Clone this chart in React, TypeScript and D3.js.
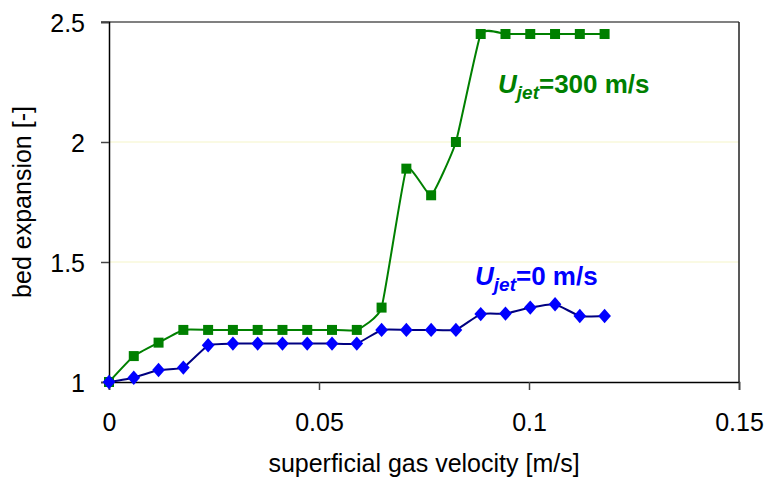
import React, { useEffect, useRef } from 'react';
import * as d3 from 'd3';

// superficial gas velocity [m/s]
const velocity = [
  0, 0.0059, 0.0118, 0.0177, 0.0236, 0.0295, 0.0354, 0.0413, 0.0472, 0.0531, 0.059,
  0.0649, 0.0708, 0.0767, 0.0826, 0.0885, 0.0944, 0.1003, 0.1062, 0.1121, 0.118,
];
// bed expansion, Ujet = 300 m/s
const expansionJet300 = [
  1.0, 1.108, 1.164, 1.217, 1.217, 1.217, 1.217, 1.217, 1.217, 1.217, 1.217,
  1.31, 1.889, 1.778, 2.0, 2.45, 2.45, 2.45, 2.45, 2.45, 2.45,
];
// bed expansion, Ujet = 0 m/s
const expansionJet0 = [
  1.0, 1.018, 1.05, 1.06, 1.153, 1.16, 1.16, 1.16, 1.16, 1.16, 1.16,
  1.217, 1.217, 1.217, 1.217, 1.283, 1.285, 1.31, 1.324, 1.275, 1.275,
];
const xTicks = [0, 0.05, 0.1, 0.15];
const yTicks = [1, 1.5, 2, 2.5];

const FONT = '"Liberation Sans", Arial, sans-serif';

// wide-ish diamond like the spreadsheet marker
const diamond = {
  draw(context: any, size: number) {
    const h = Math.sqrt(size) * 0.72;
    const w = h * 0.88;
    context.moveTo(0, -h);
    context.lineTo(w, 0);
    context.lineTo(0, h);
    context.lineTo(-w, 0);
    context.closePath();
  },
};

function BedExpansionChart({ width = 767, height = 479 }) {
  const svgRef = useRef<SVGSVGElement>(null);

  useEffect(() => {
    const margin = { top: 22, right: 28, bottom: 97, left: 109 };
    const chartWidth = width - margin.left - margin.right;
    const chartHeight = height - margin.top - margin.bottom;

    d3.select(svgRef.current).selectAll('*').remove();

    const root = d3.select(svgRef.current)
      .attr('width', width)
      .attr('height', height);

    root.append('rect')
      .attr('width', width)
      .attr('height', height)
      .attr('fill', '#ffffff');

    const svg = root.append('g')
      .attr('transform', `translate(${margin.left},${margin.top})`);

    const xScale = d3.scaleLinear().domain([0, 0.15]).range([0, chartWidth]);
    const yScale = d3.scaleLinear().domain([1, 2.5]).range([chartHeight, 0]);

    // pale grid lines
    svg.selectAll('.grid')
      .data(yTicks.filter(t => t > 1 && t < 2.5))
      .enter()
      .append('line')
      .attr('x1', 0)
      .attr('x2', chartWidth)
      .attr('y1', d => yScale(d))
      .attr('y2', d => yScale(d))
      .attr('stroke', '#f5f5c8')
      .attr('stroke-width', 1);

    // frame: top gray, right dark
    svg.append('line')
      .attr('x1', -8).attr('x2', chartWidth)
      .attr('y1', 0).attr('y2', 0)
      .attr('stroke', '#808080')
      .attr('stroke-width', 2);
    svg.append('line')
      .attr('x1', chartWidth).attr('x2', chartWidth)
      .attr('y1', 0).attr('y2', chartHeight)
      .attr('stroke', '#222222')
      .attr('stroke-width', 1.5);

    // axes
    const xAxis = svg.append('g')
      .attr('transform', `translate(0,${chartHeight})`)
      .call(d3.axisBottom(xScale).tickValues(xTicks).tickSize(8).tickPadding(23).tickFormat(d => String(d)));
    const yAxis = svg.append('g')
      .call(d3.axisLeft(yScale).tickValues(yTicks).tickSize(8).tickPadding(16).tickFormat(d => String(d)));

    [xAxis, yAxis].forEach(ax => {
      ax.select('.domain').attr('stroke', '#000').attr('stroke-width', 1.5);
      ax.selectAll('.tick line').attr('stroke', '#444').attr('stroke-width', 1.5);
      ax.selectAll('.tick text')
        .attr('fill', '#000')
        .style('font-family', FONT)
        .style('font-size', '25px');
    });
    yAxis.selectAll('.tick text').attr('dy', '0.36em');

    // lines
    const series = [
      { values: expansionJet300, line: '#008000', marker: '#008000', shape: d3.symbolSquare, size: 100 },
      { values: expansionJet0, line: '#000080', marker: '#0000ff', shape: diamond, size: 100 },
    ];

    series.forEach(s => {
      const pts = velocity.map((v, i) => [v, s.values[i]] as [number, number]);
      const line = d3.line<[number, number]>()
        .x(d => xScale(d[0]))
        .y(d => yScale(d[1]))
        .curve(d3.curveCardinal.tension(0.6));

      svg.append('path')
        .datum(pts)
        .attr('fill', 'none')
        .attr('stroke', s.line)
        .attr('stroke-width', 2)
        .attr('d', line);

      svg.selectAll(null)
        .data(pts)
        .enter()
        .append('path')
        .attr('transform', d => `translate(${xScale(d[0])},${yScale(d[1])})`)
        .attr('d', d3.symbol().type(s.shape as any).size(s.size)())
        .attr('fill', s.marker);
    });

    // series labels
    const addLabel = (x: number, y: number, value: string, color: string) => {
      const t = svg.append('text')
        .attr('x', x)
        .attr('y', y)
        .attr('fill', color)
        .style('font-family', FONT)
        .style('font-weight', 'bold')
        .style('font-size', '26px');
      t.append('tspan').style('font-style', 'italic').text('U');
      t.append('tspan')
        .style('font-style', 'italic')
        .style('font-size', '19px')
        .attr('dy', 6)
        .text('jet');
      t.append('tspan').attr('dy', -6).text(`=${value} m/s`);
    };
    addLabel(389, 71, '300', '#008000');
    addLabel(366, 263, '0', '#0000ff');

    // axis titles
    root.append('text')
      .attr('x', margin.left + chartWidth / 2)
      .attr('y', 472)
      .attr('text-anchor', 'middle')
      .attr('fill', '#000')
      .style('font-family', FONT)
      .style('font-size', '25px')
      .text('superficial gas velocity [m/s]');

    root.append('text')
      .attr('transform', `translate(31,${margin.top + chartHeight / 2}) rotate(-90)`)
      .attr('text-anchor', 'middle')
      .attr('fill', '#000')
      .style('font-family', FONT)
      .style('font-size', '25px')
      .text('bed expansion [-]');
  }, [width, height]);

  return <svg ref={svgRef} style={{ display: 'block' }}></svg>;
}

export default function App() {
  return (
    <div style={{ position: 'absolute', left: 0, top: 0, background: '#fff' }}>
      <BedExpansionChart />
    </div>
  );
}
